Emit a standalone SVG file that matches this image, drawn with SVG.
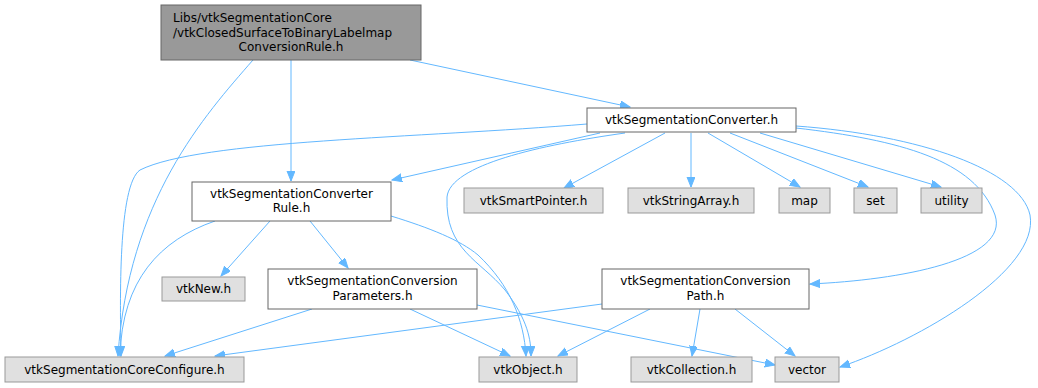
<svg xmlns="http://www.w3.org/2000/svg" width="1038" height="388" viewBox="0 0 1038 388">
  <style>
    text { font-family: "DejaVu Sans", "Liberation Sans", sans-serif; font-size: 12px; fill: #000; }
    .c { text-anchor: middle; }
    .s { text-anchor: start; }
    .root rect { fill: #999999; stroke: #666666; stroke-width: 1; }
    .node rect { fill: #ffffff; stroke: #666666; stroke-width: 1; }
    .ext rect { fill: #e0e0e0; stroke: #999999; stroke-width: 1; }
    #edges path { fill: none; stroke: #63b8ff; stroke-width: 1; marker-end: url(#arrow); }
  </style>
  <defs>
    <marker id="arrow" markerUnits="userSpaceOnUse" markerWidth="11" markerHeight="9" refX="10" refY="4" orient="auto">
      <path d="M0,0 L10,4 L0,8 z" fill="#63b8ff" stroke="#63b8ff"/>
    </marker>
  </defs>
  <rect width="1038" height="388" fill="#ffffff"/>

  <g id="edges">
    <!-- from the root header -->
    <path d="M253,60 C205,115 128,200 118,356"/>
    <path d="M291,60 L291,181"/>
    <path d="M410,60 L630,107"/>
    <!-- from vtkSegmentationConverter.h -->
    <path d="M600,133 L392,180"/>
    <path d="M587,124 C420,138 200,140 140,170 C118,185 120,300 121,356"/>
    <path d="M625,133 C540,145 450,165 447,197 C445,250 480,260 505,290 C528,320 531,340 531,356"/>
    <path d="M665,133 L564,188"/>
    <path d="M691,133 L691,187"/>
    <path d="M708,133 L800,187"/>
    <path d="M730,133 L868,187"/>
    <path d="M760,133 L941,187"/>
    <path d="M796,128 C900,140 975,160 995,215 C1010,260 900,280 810,284"/>
    <path d="M796,126 C920,135 1020,170 1030,215 C1040,270 920,340 840,367"/>
    <!-- from vtkSegmentationConverterRule.h -->
    <path d="M215,221 C160,240 122,280 120,356"/>
    <path d="M270,221 L221,276"/>
    <path d="M310,221 L348,268"/>
    <path d="M391,216 C430,228 460,240 478,255 C510,285 524,320 526,356"/>
    <!-- from vtkSegmentationConversionParameters.h -->
    <path d="M312,309 L165,356"/>
    <path d="M410,309 L510,356"/>
    <path d="M477,305 L775,365"/>
    <!-- from vtkSegmentationConversionPath.h -->
    <path d="M602,304 L215,356"/>
    <path d="M650,309 L558,356"/>
    <path d="M700,309 L692,356"/>
    <path d="M735,309 L795,356"/>
  </g>

  <g id="node_root" class="root">
    <rect x="161" y="5" width="260" height="55"/>
    <text class="s" x="173" y="22">Libs/vtkSegmentationCore</text>
    <text class="s" x="173" y="37">/vtkClosedSurfaceToBinaryLabelmap</text>
    <text class="c" x="291" y="51">ConversionRule.h</text>
  </g>

  <g id="node_converter" class="node">
    <rect x="587" y="108" width="209" height="24"/>
    <text class="c" x="691.5" y="124">vtkSegmentationConverter.h</text>
  </g>

  <g id="node_converter_rule" class="node">
    <rect x="192" y="182" width="199" height="39"/>
    <text class="c" x="291.5" y="198">vtkSegmentationConverter</text>
    <text class="c" x="291.5" y="212">Rule.h</text>
  </g>

  <g id="node_smart_pointer" class="ext">
    <rect x="464" y="188" width="139" height="25"/>
    <text class="c" x="533.5" y="205">vtkSmartPointer.h</text>
  </g>

  <g id="node_string_array" class="ext">
    <rect x="628" y="188" width="126" height="25"/>
    <text class="c" x="691" y="205">vtkStringArray.h</text>
  </g>

  <g id="node_map" class="ext">
    <rect x="779" y="188" width="51" height="25"/>
    <text class="c" x="804.5" y="205">map</text>
  </g>

  <g id="node_set" class="ext">
    <rect x="854" y="188" width="43" height="25"/>
    <text class="c" x="875.5" y="205">set</text>
  </g>

  <g id="node_utility" class="ext">
    <rect x="921" y="188" width="61" height="25"/>
    <text class="c" x="951.5" y="205">utility</text>
  </g>

  <g id="node_vtk_new" class="ext">
    <rect x="162" y="277" width="83" height="24"/>
    <text class="c" x="203.5" y="293">vtkNew.h</text>
  </g>

  <g id="node_conversion_parameters" class="node">
    <rect x="268" y="269" width="209" height="40"/>
    <text class="c" x="372.5" y="285">vtkSegmentationConversion</text>
    <text class="c" x="372.5" y="300">Parameters.h</text>
  </g>

  <g id="node_conversion_path" class="node">
    <rect x="602" y="269" width="207" height="40"/>
    <text class="c" x="705.5" y="285">vtkSegmentationConversion</text>
    <text class="c" x="705.5" y="300">Path.h</text>
  </g>

  <g id="node_core_configure" class="ext">
    <rect x="5" y="357" width="239" height="25"/>
    <text class="c" x="124.5" y="374">vtkSegmentationCoreConfigure.h</text>
  </g>

  <g id="node_vtk_object" class="ext">
    <rect x="479" y="357" width="98" height="25"/>
    <text class="c" x="528" y="374">vtkObject.h</text>
  </g>

  <g id="node_vtk_collection" class="ext">
    <rect x="631" y="357" width="121" height="25"/>
    <text class="c" x="691.5" y="374">vtkCollection.h</text>
  </g>

  <g id="node_vector" class="ext">
    <rect x="775" y="357" width="64" height="25"/>
    <text class="c" x="807" y="374">vector</text>
  </g>
</svg>
